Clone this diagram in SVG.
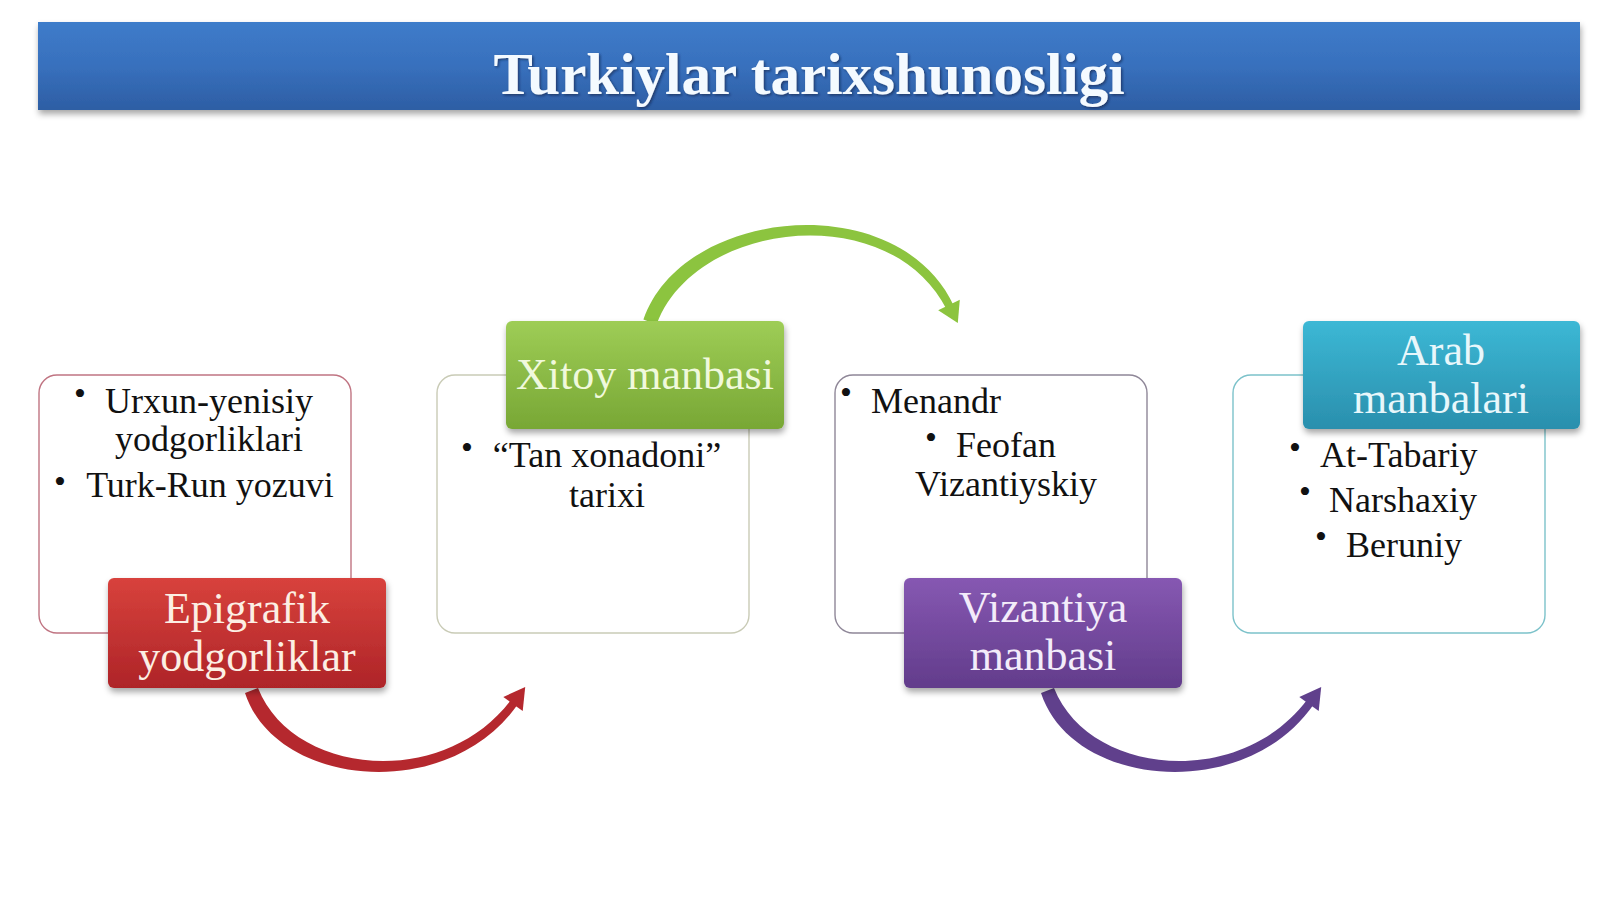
<svg xmlns="http://www.w3.org/2000/svg" width="1600" height="899" viewBox="0 0 1600 899">
<defs>
<style>
.t{font-family:"Liberation Serif","Times New Roman",serif;font-size:36px;fill:#111}
.c{text-anchor:middle}
.bul{font-family:"Liberation Serif","Times New Roman",serif;font-size:34px;fill:#111;text-anchor:middle}
.lbl{font-family:"Liberation Serif","Times New Roman",serif;font-size:44px;text-anchor:middle}
.frame{fill:#fff;stroke-width:1.4}
</style>
<linearGradient id="gBanner" x1="0" y1="0" x2="0" y2="1">
<stop offset="0" stop-color="#3e7cca"/><stop offset="0.5" stop-color="#3870bd"/><stop offset="1" stop-color="#2d5ea4"/>
</linearGradient>
<linearGradient id="gRed" x1="0" y1="0" x2="0" y2="1">
<stop offset="0" stop-color="#d8423c"/><stop offset="1" stop-color="#ae2428"/>
</linearGradient>
<linearGradient id="gGreen" x1="0" y1="0" x2="0" y2="1">
<stop offset="0" stop-color="#9ecd56"/><stop offset="1" stop-color="#78a735"/>
</linearGradient>
<linearGradient id="gPurple" x1="0" y1="0" x2="0" y2="1">
<stop offset="0" stop-color="#8658b2"/><stop offset="1" stop-color="#623c8b"/>
</linearGradient>
<linearGradient id="gTeal" x1="0" y1="0" x2="0" y2="1">
<stop offset="0" stop-color="#3cb8d5"/><stop offset="1" stop-color="#2a8fad"/>
</linearGradient>
<filter id="sh" x="-10%" y="-10%" width="120%" height="140%">
<feDropShadow dx="1" dy="4" stdDeviation="3" flood-color="#000" flood-opacity="0.35"/>
</filter>
<filter id="tsh" x="-5%" y="-20%" width="110%" height="140%">
<feDropShadow dx="1.5" dy="1.5" stdDeviation="0.8" flood-color="#0a2040" flood-opacity="0.6"/>
</filter>
</defs>
<rect width="1600" height="899" fill="#fff"/>

<g id="banner">
<rect x="38" y="22" width="1542" height="88" fill="url(#gBanner)" filter="url(#sh)"/>
<text x="809" y="94" font-family="'Liberation Serif','Times New Roman',serif" font-size="59" font-weight="bold" fill="#f4faff" text-anchor="middle" filter="url(#tsh)">Turkiylar tarixshunosligi</text>
</g>

<g id="connectors">
<g id="arrow-red" fill="#b5282e">
<path d="M245,693 C276,788 449,804 518,704 L511.5,699.3 C443,791 292,775 258,688 Z"/>
<polygon points="525.2,687 522.7,711 503.3,697"/>
</g>
<g id="arrow-green" fill="#8cc43f">
<path d="M643.4,319.6 C682,207 898,186 953.9,305.9 L946.7,309.5 C890,198 695,220 656.6,324.5 Z"/>
<polygon points="957.8,323 959.8,299.7 938.2,310.3"/>
</g>
<g id="arrow-purple" fill="#60408c" transform="translate(796,0)">
<path d="M245,693 C276,788 449,804 518,704 L511.5,699.3 C443,791 292,775 258,688 Z"/>
<polygon points="525.2,687 522.7,711 503.3,697"/>
</g>
</g>

<g id="node-epigrafik">
<rect class="frame" x="39" y="375" width="312" height="258" rx="18" stroke="#c07482"/>
<text class="bul" x="80" y="405">•</text>
<text class="t c" x="209" y="413">Urxun-yenisiy</text>
<text class="t c" x="209" y="451">yodgorliklari</text>
<text class="bul" x="60" y="493">•</text>
<text class="t c" x="210" y="497">Turk-Run yozuvi</text>
<rect x="108" y="578" width="278" height="110" rx="6" fill="url(#gRed)" filter="url(#sh)"/>
<text class="lbl" x="247" y="623" fill="#fcefe4">Epigrafik</text>
<text class="lbl" x="247" y="671" fill="#fcefe4">yodgorliklar</text>
</g>

<g id="node-xitoy">
<rect class="frame" x="437" y="375" width="312" height="258" rx="18" stroke="#c9cbb6"/>
<text class="bul" x="467" y="459">•</text>
<text class="t c" x="607" y="467">“Tan xonadoni”</text>
<text class="t c" x="607" y="507">tarixi</text>
<rect x="506" y="321" width="278" height="108" rx="6" fill="url(#gGreen)" filter="url(#sh)"/>
<text class="lbl" x="645" y="389" fill="#f0f9dc">Xitoy manbasi</text>
</g>

<g id="node-vizantiya">
<rect class="frame" x="835" y="375" width="312" height="258" rx="18" stroke="#8f8798"/>
<text class="bul" x="846" y="404">•</text>
<text class="t" x="871" y="413">Menandr</text>
<text class="bul" x="931" y="449">•</text>
<text class="t" x="956" y="457">Feofan</text>
<text class="t c" x="1006" y="496">Vizantiyskiy</text>
<rect x="904" y="578" width="278" height="110" rx="6" fill="url(#gPurple)" filter="url(#sh)"/>
<text class="lbl" x="1043" y="622" fill="#f3ecfa">Vizantiya</text>
<text class="lbl" x="1043" y="670" fill="#f3ecfa">manbasi</text>
</g>

<g id="node-arab">
<rect class="frame" x="1233" y="375" width="312" height="258" rx="18" stroke="#7cc2ca"/>
<text class="bul" x="1295" y="459">•</text>
<text class="t" x="1320" y="467">At-Tabariy</text>
<text class="bul" x="1305" y="503">•</text>
<text class="t" x="1329" y="512">Narshaxiy</text>
<text class="bul" x="1321" y="548">•</text>
<text class="t" x="1346" y="557">Beruniy</text>
<rect x="1303" y="321" width="277" height="108" rx="6" fill="url(#gTeal)" filter="url(#sh)"/>
<text class="lbl" x="1441" y="365" fill="#e8f7fb">Arab</text>
<text class="lbl" x="1441" y="413" fill="#e8f7fb">manbalari</text>
</g>
</svg>
